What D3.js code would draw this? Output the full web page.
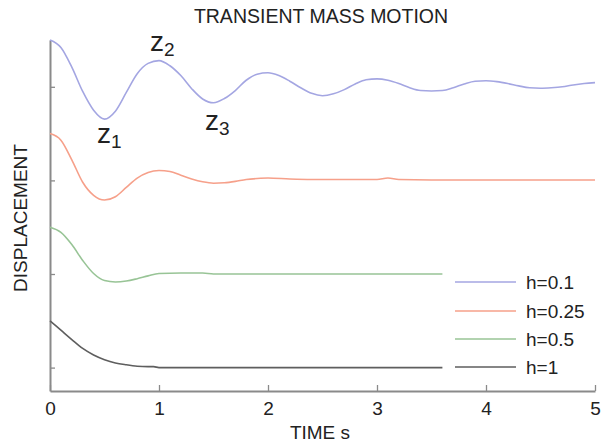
<!DOCTYPE html>
<html>
<head>
<meta charset="utf-8">
<script src="https://cdn.jsdelivr.net/npm/d3@7"></script>
<style>
  html, body { margin: 0; padding: 0; background: #fff; }
  svg text { font-family: "Liberation Sans", Arial, sans-serif; fill: #222; }
</style>
</head>
<body>
<svg id="chart" width="604" height="442"></svg>
<script>
// ---- data ----
const seriesNames = ["h=0.1", "h=0.25", "h=0.5", "h=1"];
const seriesOffsets = [6, 4, 2, 0];   // each trace is stacked on its own baseline
const xTicks = [0, 1, 2, 3, 4, 5];
const yTicks = [0, 2, 4, 6];

const tH01 = [0,0.1,0.2,0.3,0.4,0.5,0.6,0.7,0.8,0.9,1.0,1.1,1.2,1.3,1.4,1.5,1.6,1.7,1.8,1.9,2.0,2.1,2.2,2.3,2.4,2.5,2.6,2.7,2.8,2.9,3.0,3.1,3.2,3.3,3.4,3.5,3.6,3.7,3.8,3.9,4.0,4.1,4.2,4.3,4.4,4.5,4.6,4.7,4.8,4.9,5.0];
const vH01 = [1.00,0.84,0.42,-0.10,-0.50,-0.69,-0.52,-0.12,0.28,0.50,0.56,0.45,0.24,-0.04,-0.26,-0.34,-0.25,-0.08,0.14,0.27,0.30,0.24,0.12,-0.02,-0.14,-0.19,-0.15,-0.06,0.06,0.15,0.17,0.14,0.07,-0.02,-0.08,-0.09,-0.08,-0.02,0.06,0.12,0.13,0.11,0.07,0.02,-0.02,-0.03,-0.02,0.00,0.04,0.07,0.09];

const tH025 = [0,0.1,0.2,0.3,0.4,0.5,0.6,0.7,0.8,0.9,1.0,1.1,1.2,1.3,1.4,1.5,1.6,1.7,1.8,1.9,2.0,2.2,2.4,2.6,2.8,3.0,3.1,3.2,3.5,4.0,4.5,5.0];
const vH025 = [1.00,0.86,0.44,-0.04,-0.32,-0.42,-0.35,-0.15,0.05,0.17,0.21,0.19,0.11,0.03,-0.03,-0.06,-0.05,-0.02,0.02,0.04,0.05,0.03,0.02,0.02,0.02,0.02,0.05,0.02,0.01,0.01,0.01,0.01];

const tH05 = [0,0.1,0.2,0.3,0.4,0.5,0.6,0.7,0.8,0.9,1.0,1.2,1.4,1.5,2.0,2.5,3.0,3.6];
const vH05 = [1.00,0.89,0.63,0.29,0.01,-0.14,-0.17,-0.15,-0.10,-0.04,0.01,0.02,0.02,0.00,0.00,0.00,0.00,0.00];

const tH1 = [0,0.1,0.2,0.3,0.4,0.5,0.6,0.7,0.8,0.9,0.95,1.0,2.0,3.0,3.6];
const vH1 = [1.00,0.80,0.60,0.41,0.27,0.17,0.10,0.06,0.03,0.02,0.02,0.00,0.00,0.00,0.00];

const seriesTimes = [tH01, tH025, tH05, tH1];
const seriesValues = [vH01, vH025, vH05, vH1];

const peakNames = ["1", "2", "3"];

// ---- drawing ----
const colors = ["#a4a6e2", "#f6a08a", "#98c496", "#5e5e5e"];
const svg = d3.select("#chart");

const x = d3.scaleLinear().domain([0, 5]).range([50, 595]);
const y = d3.scaleLinear().domain([-0.5, 7]).range([391, 40]);

// title
svg.append("text").attr("x", 321).attr("y", 23).attr("text-anchor", "middle")
  .style("font-size", "19.5px").text("TRANSIENT MASS MOTION");

// axes
const axisColor = "#8a8a8a";
const gx = svg.append("g").attr("transform", "translate(0,391)")
  .call(d3.axisBottom(x).tickValues(xTicks).tickFormat(d3.format("d"))
    .tickSize(-6).tickSizeOuter(0).tickPadding(11));
const gy = svg.append("g").attr("transform", "translate(50,0)")
  .call(d3.axisLeft(y).tickValues(yTicks).tickFormat("")
    .tickSize(-5).tickSizeOuter(0));
[gx, gy].forEach(g => {
  g.select(".domain").attr("stroke", axisColor).attr("stroke-width", 2);
  g.selectAll(".tick line").attr("stroke", axisColor).attr("stroke-width", 1.3);
  g.selectAll(".tick text").style("font-size", "19px")
    .style("font-family", "'Liberation Sans', Arial, sans-serif").attr("fill", "#222");
});

// axis labels
svg.append("text").attr("x", 320).attr("y", 439).attr("text-anchor", "middle")
  .style("font-size", "19px").text("TIME s");
svg.append("text").attr("transform", "translate(27,218) rotate(-90)")
  .attr("text-anchor", "middle").style("font-size", "19px").text("DISPLACEMENT");

// curves
const line = d3.line().x(d => x(d[0])).y(d => y(d[1])).curve(d3.curveMonotoneX);
seriesNames.forEach((name, i) => {
  const pts = seriesTimes[i].map((t, j) => [t, seriesValues[i][j] + seriesOffsets[i]]);
  svg.append("path").datum(pts).attr("d", line)
    .attr("fill", "none").attr("stroke", colors[i]).attr("stroke-width", 1.6);
});

// peak labels z1, z2, z3
const peakPos = [[97, 143], [150, 51], [205, 130]];
peakNames.forEach((n, i) => {
  const t = svg.append("text").attr("x", peakPos[i][0]).attr("y", peakPos[i][1]);
  t.append("tspan").style("font-size", "28px").text("z");
  t.append("tspan").style("font-size", "19px").attr("dy", 5).text(n);
});

// legend
const legY = [282, 311, 339, 367];
seriesNames.forEach((name, i) => {
  svg.append("line").attr("x1", 455).attr("x2", 516).attr("y1", legY[i]).attr("y2", legY[i])
    .attr("stroke", colors[i]).attr("stroke-width", 1.6);
  svg.append("text").attr("x", 526).attr("y", legY[i] + 7)
    .style("font-size", "19px").text(name);
});
</script>
</body>
</html>
